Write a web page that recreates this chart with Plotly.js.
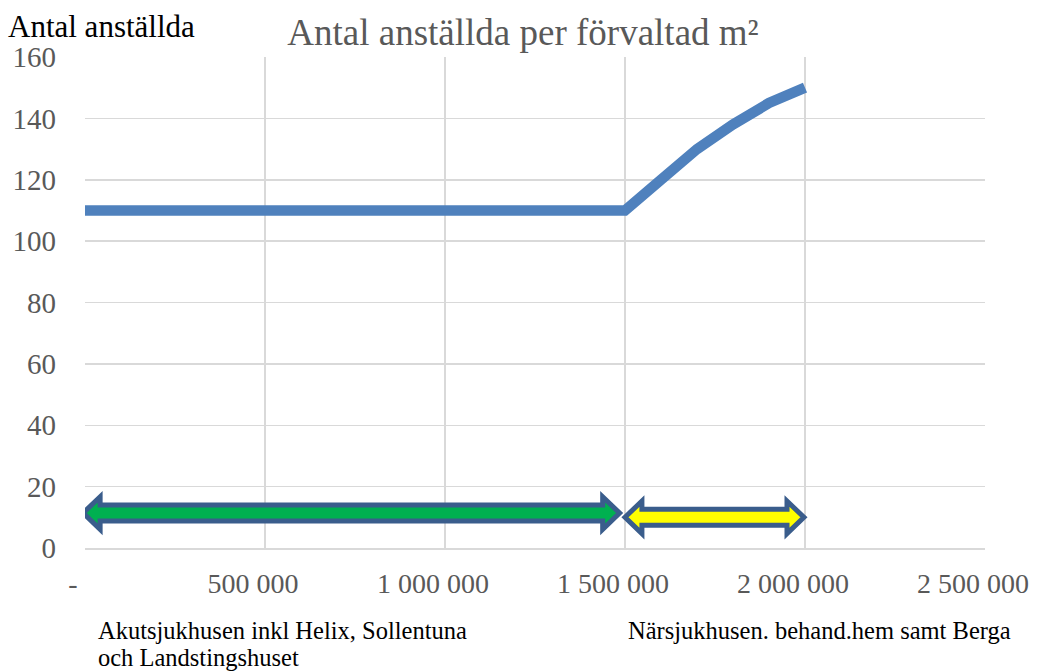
<!DOCTYPE html>
<html>
<head>
<meta charset="utf-8">
<script src="https://cdn.plot.ly/plotly-3.0.1.min.js"></script>
<style>html,body{margin:0;padding:0;background:#fff;}#chart{width:1043px;height:672px;}</style>
</head>
<body>
<div id="chart"></div>
<script>
// Series: employees per managed m² (x = förvaltad yta, y = antal anställda)
const areaM2 = [0, 500000, 1000000, 1500000, 1600000, 1700000, 1800000, 1900000, 2000000];
const employees = [110, 110, 110, 110, 120, 130, 138, 145, 150];

// Axis ticks
const xTickVals = [0, 500000, 1000000, 1500000, 2000000, 2500000];
const xTickText = ['-', '500 000', '1 000 000', '1 500 000', '2 000 000', '2 500 000'];

// Range arrows (start, end, level) and their colours
const arrowStart = [-5000, 1500000];
const arrowEnd = [1485000, 1997000];
const arrowLevel = [11.4, 10.0];
const arrowFill = ['#00B050', '#FFFF00'];

// Group labels
const groupLabels = ['Akutsjukhusen inkl Helix, Sollentuna', 'och Landstingshuset', 'Närsjukhusen. behand.hem samt Berga'];

const FONT = 'Liberation Serif, Times New Roman, serif';

function arrowPath(x0, x1, yc) {
  const hx = 47000, sh = 2.6, hh = 5.3;
  const pts = [
    [x0, yc], [x0 + hx, yc + hh], [x0 + hx, yc + sh], [x1 - hx, yc + sh], [x1 - hx, yc + hh],
    [x1, yc], [x1 - hx, yc - hh], [x1 - hx, yc - sh], [x0 + hx, yc - sh], [x0 + hx, yc - hh]
  ];
  return 'M' + pts.map(p => p[0] + ',' + p[1]).join(' L') + ' Z';
}

const shapes = arrowStart.map((s, i) => ({
  type: 'path', xref: 'x', yref: 'y', layer: 'above',
  path: arrowPath(s, arrowEnd[i], arrowLevel[i]),
  fillcolor: arrowFill[i],
  line: {color: '#3A5D8C', width: 5}
}));

const trace = {
  x: areaM2, y: employees, type: 'scatter', mode: 'lines',
  line: {color: '#4F81BD', width: 10.5, shape: 'linear'},
  hoverinfo: 'x+y', showlegend: false
};

const layout = {
  width: 1043, height: 672,
  margin: {l: 85, r: 58, t: 57, b: 124},
  paper_bgcolor: '#ffffff', plot_bgcolor: '#ffffff',
  font: {family: FONT, color: '#595959'},
  title: {text: 'Antal anställda per förvaltad m²', font: {family: FONT, size: 37, color: '#595959'},
          x: 523 / 1043, xanchor: 'center', xref: 'container', y: 1 - 32 / 672, yanchor: 'middle', yref: 'container'},
  xaxis: {
    range: [0, 2500000], tickvals: xTickVals, ticktext: xTickText,
    showgrid: true, gridcolor: '#d9d9d9', gridwidth: 1.5,
    zeroline: false, showline: true, linecolor: '#d9d9d9', linewidth: 1.5,
    ticks: '', ticklabelstandoff: 10, ticklabelshift: -12,
    tickfont: {family: FONT, size: 28, color: '#595959'}, fixedrange: true
  },
  yaxis: {
    range: [0, 160], tick0: 0, dtick: 20,
    showgrid: true, gridcolor: '#d9d9d9', gridwidth: 1.5,
    zeroline: false, showline: false,
    ticks: '', ticklabelstandoff: 28,
    tickfont: {family: FONT, size: 29, color: '#595959'}, fixedrange: true
  },
  shapes: shapes,
  annotations: [
    {text: 'Antal anställda', xref: 'paper', yref: 'paper', x: -79 / 900, y: 1 + 31 / 491,
     xanchor: 'left', yanchor: 'middle', showarrow: false, font: {family: FONT, size: 31, color: '#000000'}},
    {text: groupLabels[0], xref: 'paper', yref: 'paper', x: 11 / 900, y: -82 / 491,
     xanchor: 'left', yanchor: 'middle', showarrow: false, font: {family: FONT, size: 24.5, color: '#000000'}},
    {text: groupLabels[1], xref: 'paper', yref: 'paper', x: 11 / 900, y: -109 / 491,
     xanchor: 'left', yanchor: 'middle', showarrow: false, font: {family: FONT, size: 24.5, color: '#000000'}},
    {text: groupLabels[2], xref: 'paper', yref: 'paper', x: 541 / 900, y: -82 / 491,
     xanchor: 'left', yanchor: 'middle', showarrow: false, font: {family: FONT, size: 24.5, color: '#000000'}}
  ]
};

Plotly.newPlot('chart', [trace], layout, {displayModeBar: false, staticPlot: true});
</script>
</body>
</html>
